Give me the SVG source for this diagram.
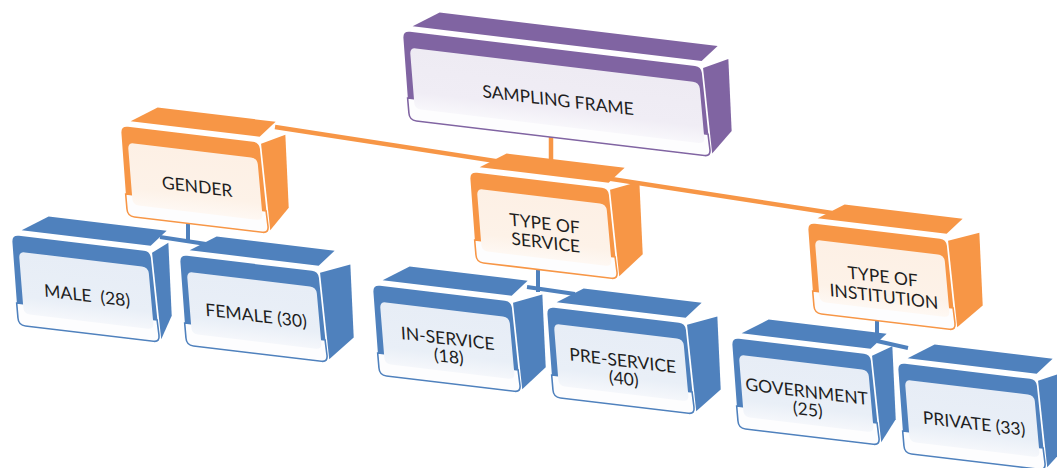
<svg xmlns="http://www.w3.org/2000/svg" width="1057" height="468" viewBox="0 0 1057 468">
<defs>
<linearGradient id="gb" x1="0" y1="0" x2="0" y2="1"><stop offset="0" stop-color="#E7EDF6"/><stop offset="0.72" stop-color="#E9EFF7"/><stop offset="1" stop-color="#F5F7FB"/></linearGradient>
<linearGradient id="go" x1="0" y1="0" x2="0" y2="1"><stop offset="0" stop-color="#FDF0E5"/><stop offset="0.72" stop-color="#FDF2E8"/><stop offset="1" stop-color="#FEF8F3"/></linearGradient>
<linearGradient id="gp" x1="0" y1="0" x2="0" y2="1"><stop offset="0" stop-color="#EEEBF3"/><stop offset="0.72" stop-color="#F0EDF5"/><stop offset="1" stop-color="#F8F7FB"/></linearGradient>
<style>
.blue .c{fill:#4F81BD}.blue .band{stroke:#4F81BD}.blue .pn{fill:url(#gb)}
.orange .c{fill:#F79646}.orange .band{stroke:#F79646}.orange .pn{fill:url(#go)}
.purple .c{fill:#8064A2}.purple .band{stroke:#8064A2}.purple .pn{fill:url(#gp)}
.band{fill:#FDFDFE;stroke-width:1.6}
.t{font-family:Lato,"Liberation Sans",sans-serif;font-size:17.5px;fill:#1E1E1E;text-anchor:middle}
.lo{stroke:#F79646;stroke-width:4.5;fill:none}
.lb{stroke:#4F81BD;stroke-width:4;fill:none}
</style>
</defs>
<rect width="1057" height="468" fill="#fff"/>
<g id="connectors">
<line class="lo" x1="275" y1="127" x2="832" y2="213"/>
<line class="lo" x1="551" y1="118" x2="551" y2="166"/>
<line class="lb" x1="188" y1="222" x2="188" y2="242"/>
<line class="lb" x1="160" y1="237" x2="206" y2="244"/>
<line class="lb" x1="538" y1="268" x2="538" y2="292"/>
<line class="lb" x1="527" y1="287" x2="575" y2="294"/>
<line class="lb" x1="877" y1="308" x2="877" y2="342"/>
<line class="lb" x1="877" y1="341" x2="908" y2="348"/>
</g>

<g id="male" class="blue" transform="matrix(1 0.12 0.06 1 12 235)">
<polygon class="c" points="10,-6 38,-23 156,-23 139,-6"/>
<polygon class="c" points="140,1 157,-11 156,62 144,87"/>
<path class="c" d="M0,7 Q0,0 7,0 H132 Q138,0 138.5,6 L142,83 Q142.5,90 136,90 H8 Q1,90 1,83 Z"/>
<path class="band" d="M0.6,68 H141 L142,83 Q142.5,90 136,90 H8 Q1,90 1,83 Z"/>
<path class="pn" d="M6,22 Q6,16 12,16 H129 Q135,16 135.5,22 L137,72 Q137.3,78 131,78 H13 Q7,78 7,72 Z"/>
<text class="t" x="72" y="58" xml:space="preserve">MALE  (28)</text>
</g>

<g id="female" class="blue" transform="matrix(1 0.12 0.06 1 180 255)">
<polygon class="c" points="10,-6 38,-23 156,-23 139,-6"/>
<polygon class="c" points="140,1 171,-11 170,62 144,87"/>
<path class="c" d="M0,7 Q0,0 7,0 H132 Q138,0 138.5,6 L142,83 Q142.5,90 136,90 H8 Q1,90 1,83 Z"/>
<path class="band" d="M0.6,68 H141 L142,83 Q142.5,90 136,90 H8 Q1,90 1,83 Z"/>
<path class="pn" d="M6,22 Q6,16 12,16 H129 Q135,16 135.5,22 L137,72 Q137.3,78 131,78 H13 Q7,78 7,72 Z"/>
<text class="t" x="73" y="58">FEMALE (30)</text>
</g>

<g id="in-service" class="blue" transform="matrix(1 0.12 0.06 1 373 285)">
<polygon class="c" points="10,-6 38,-23 156,-23 139,-6"/>
<polygon class="c" points="140,1 170,-11 169,62 144,87"/>
<path class="c" d="M0,7 Q0,0 7,0 H132 Q138,0 138.5,6 L142,83 Q142.5,90 136,90 H8 Q1,90 1,83 Z"/>
<path class="band" d="M0.6,68 H141 L142,83 Q142.5,90 136,90 H8 Q1,90 1,83 Z"/>
<path class="pn" d="M6,22 Q6,16 12,16 H129 Q135,16 135.5,22 L137,72 Q137.3,78 131,78 H13 Q7,78 7,72 Z"/>
<text class="t" x="72" y="51">IN-SERVICE</text>
<text class="t" x="72" y="69">(18)</text>
</g>

<g id="pre-service" class="blue" transform="matrix(1 0.12 0.06 1 547 307)">
<polygon class="c" points="10,-6 38,-23 156,-23 139,-6"/>
<polygon class="c" points="140,1 171,-11 170,62 144,87"/>
<path class="c" d="M0,7 Q0,0 7,0 H132 Q138,0 138.5,6 L142,83 Q142.5,90 136,90 H8 Q1,90 1,83 Z"/>
<path class="band" d="M0.6,68 H141 L142,83 Q142.5,90 136,90 H8 Q1,90 1,83 Z"/>
<path class="pn" d="M6,22 Q6,16 12,16 H129 Q135,16 135.5,22 L137,72 Q137.3,78 131,78 H13 Q7,78 7,72 Z"/>
<text class="t" x="73" y="51">PRE-SERVICE</text>
<text class="t" x="73" y="69">(40)</text>
</g>

<g id="government" class="blue" transform="matrix(1 0.12 0.06 1 732 338)">
<polygon class="c" points="10,-6 38,-23 156,-23 139,-6"/>
<polygon class="c" points="140,1 161,-11 160,62 144,87"/>
<path class="c" d="M0,7 Q0,0 7,0 H132 Q138,0 138.5,6 L142,83 Q142.5,90 136,90 H8 Q1,90 1,83 Z"/>
<path class="band" d="M0.6,68 H141 L142,83 Q142.5,90 136,90 H8 Q1,90 1,83 Z"/>
<path class="pn" d="M6,22 Q6,16 12,16 H129 Q135,16 135.5,22 L137,72 Q137.3,78 131,78 H13 Q7,78 7,72 Z"/>
<text class="t" x="72" y="51">GOVERNMENT</text>
<text class="t" x="72" y="69">(25)</text>
</g>

<g id="private" class="blue" transform="matrix(1 0.12 0.06 1 898 363)">
<polygon class="c" points="10,-6 38,-23 156,-23 139,-6"/>
<polygon class="c" points="140,1 167,-11 166,62 144,87"/>
<path class="c" d="M0,7 Q0,0 7,0 H132 Q138,0 138.5,6 L142,83 Q142.5,90 136,90 H8 Q1,90 1,83 Z"/>
<path class="band" d="M0.6,68 H141 L142,83 Q142.5,90 136,90 H8 Q1,90 1,83 Z"/>
<path class="pn" d="M6,22 Q6,16 12,16 H129 Q135,16 135.5,22 L137,72 Q137.3,78 131,78 H13 Q7,78 7,72 Z"/>
<text class="t" x="73" y="58">PRIVATE (33)</text>
</g>

<g id="gender" class="orange" transform="matrix(1 0.12 0.06 1 121 126)">
<polygon class="c" points="10,-6 38,-23 156,-23 139,-6"/>
<polygon class="c" points="140,1 165,-11 164,62 144,87"/>
<path class="c" d="M0,7 Q0,0 7,0 H132 Q138,0 138.5,6 L142,83 Q142.5,90 136,90 H8 Q1,90 1,83 Z"/>
<path class="band" d="M0.6,68 H141 L142,83 Q142.5,90 136,90 H8 Q1,90 1,83 Z"/>
<path class="pn" d="M6,22 Q6,16 12,16 H129 Q135,16 135.5,22 L137,72 Q137.3,78 131,78 H13 Q7,78 7,72 Z"/>
<text class="t" x="73" y="58">GENDER</text>
</g>

<g id="type-of-service" class="orange" transform="matrix(1 0.12 0.06 1 470 172)">
<polygon class="c" points="10,-6 38,-23 156,-23 139,-6"/>
<polygon class="c" points="140,1 170,-11 169,62 144,87"/>
<path class="c" d="M0,7 Q0,0 7,0 H132 Q138,0 138.5,6 L142,83 Q142.5,90 136,90 H8 Q1,90 1,83 Z"/>
<path class="band" d="M0.6,68 H141 L142,83 Q142.5,90 136,90 H8 Q1,90 1,83 Z"/>
<path class="pn" d="M6,22 Q6,16 12,16 H129 Q135,16 135.5,22 L137,72 Q137.3,78 131,78 H13 Q7,78 7,72 Z"/>
<text class="t" x="72" y="49">TYPE OF</text>
<text class="t" x="72" y="68">SERVICE</text>
</g>

<g id="type-of-institution" class="orange" transform="matrix(1 0.12 0.06 1 808 223)">
<polygon class="c" points="10,-6 38,-23 156,-23 139,-6"/>
<polygon class="c" points="140,1 172,-11 171,62 144,87"/>
<path class="c" d="M0,7 Q0,0 7,0 H132 Q138,0 138.5,6 L142,83 Q142.5,90 136,90 H8 Q1,90 1,83 Z"/>
<path class="band" d="M0.6,68 H141 L142,83 Q142.5,90 136,90 H8 Q1,90 1,83 Z"/>
<path class="pn" d="M6,22 Q6,16 12,16 H129 Q135,16 135.5,22 L137,72 Q137.3,78 131,78 H13 Q7,78 7,72 Z"/>
<text class="t" x="72" y="51">TYPE OF</text>
<text class="t" x="72" y="71">INSTITUTION</text>
</g>

<g id="sampling-frame" class="purple" transform="matrix(1 0.12 0.06 1 403 31)">
<polygon class="c" points="10,-6 38,-23 316,-23 299,-6"/>
<polygon class="c" points="300,1 326,-11 325,61 304,86"/>
<path class="c" d="M0,7 Q0,0 7,0 H292 Q298,0 298.5,6 L302,82 Q302.5,89 296,89 H8 Q1,89 1,82 Z"/>
<path class="band" d="M0.6,67 H301 L302,82 Q302.5,89 296,89 H8 Q1,89 1,82 Z"/>
<path class="pn" d="M6,22 Q6,16 12,16 H289 Q295,16 295.5,22 L297,71 Q297.3,77 291,77 H13 Q7,77 7,71 Z"/>
<text class="t" x="152" y="57">SAMPLING FRAME</text>
</g>
</svg>
